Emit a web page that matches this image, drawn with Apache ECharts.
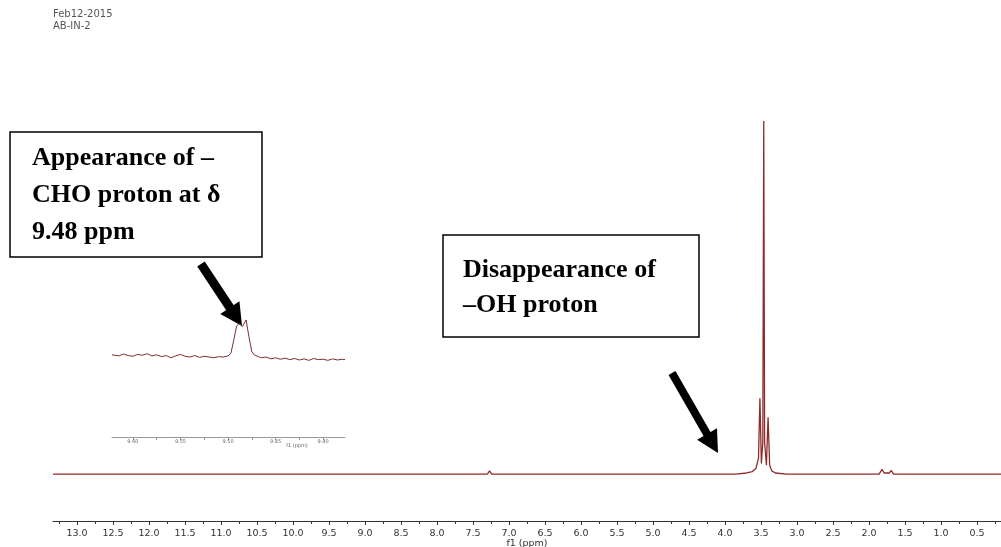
<!DOCTYPE html>
<html>
<head>
<meta charset="utf-8">
<script src="https://cdn.jsdelivr.net/npm/echarts@6/dist/echarts.min.js"></script>
<style>
  html, body { margin: 0; padding: 0; background: #fff; }
  #chart { width: 1001px; height: 547px; }
</style>
</head>
<body>
<div id="chart"></div>
<script>
// main 1H spectrum, [ppm, relative intensity]
var mainSpectrum = [
  [13.333, 0], [7.30, 0], [7.27, 0.9], [7.24, 0], [3.85, 0], [3.70, 0.3], [3.62, 0.7],
  [3.57, 1.6], [3.535, 4.5], [3.515, 21.5], [3.495, 3], [3.475, 9], [3.462, 100],
  [3.450, 9], [3.425, 2.5], [3.402, 16.1], [3.38, 2.5], [3.35, 0.9], [3.30, 0.3],
  [3.15, 0], [1.86, 0], [1.82, 1.3], [1.79, 0.3], [1.72, 0.3], [1.69, 1.0], [1.66, 0],
  [0.167, 0]
];
var mainLabels = [13.0, 12.5, 12.0, 11.5, 11.0, 10.5, 10.0, 9.5, 9.0, 8.5, 8.0, 7.5, 7.0,
  6.5, 6.0, 5.5, 5.0, 4.5, 4.0, 3.5, 3.0, 2.5, 2.0, 1.5, 1.0, 0.5];
var mainMinor = [13.25, 12.75, 12.25, 11.75, 11.25, 10.75, 10.25, 9.75, 9.25, 8.75, 8.25,
  7.75, 7.25, 6.75, 6.25, 5.75, 5.25, 4.75, 4.25, 3.75, 3.25, 2.75, 2.25, 1.75, 1.25,
  0.75, 0.25];

// expanded -CHO region (inset)
var insetSpectrum = [
  [9.622, 0.6], [9.615, 0.3], [9.610, 0.8], [9.605, 0.4], [9.600, 0.2], [9.595, 0.7],
  [9.590, 0.5], [9.585, 0.9], [9.580, 0.3], [9.575, 0.6], [9.570, 0.1], [9.565, 0.4],
  [9.560, -0.2], [9.555, 0.3], [9.550, 0.7], [9.545, 0.2], [9.540, 0.0], [9.535, 0.4],
  [9.530, -0.1], [9.525, 0.2], [9.520, 0.0], [9.515, -0.2], [9.510, 0.1], [9.505, 0.0],
  [9.500, 0.3], [9.497, 1.0], [9.494, 4.5], [9.491, 8.4], [9.488, 9.1], [9.485, 8.2],
  [9.481, 10.0], [9.478, 5.5], [9.475, 1.4], [9.472, 0.5], [9.468, 0.1], [9.465, -0.2],
  [9.460, 0.0], [9.455, -0.5], [9.450, -0.2], [9.445, -0.6], [9.440, -0.3], [9.435, -0.7],
  [9.430, -0.4], [9.425, -0.8], [9.420, -0.5], [9.415, -0.9], [9.410, -0.4], [9.405, -0.7],
  [9.400, -0.6], [9.395, -0.9], [9.390, -0.5], [9.385, -0.8], [9.380, -0.6], [9.377, -0.7]
];
var insetLabels = [9.60, 9.55, 9.50, 9.45, 9.40];
var insetMinor = [9.575, 9.525, 9.475, 9.425];

var lineColor = '#8e2a2a';
var serif = '"Liberation Serif", "Times New Roman", serif';

function arrow(tail, tip, width) {
  var dx = tip[0] - tail[0], dy = tip[1] - tail[1];
  var len = Math.sqrt(dx * dx + dy * dy);
  var ux = dx / len, uy = dy / len;
  var hl = 22, hw = 11.5;
  var bx = tip[0] - ux * hl, by = tip[1] - uy * hl;
  return [
    { type: 'line', shape: { x1: tail[0], y1: tail[1], x2: bx + ux * 2, y2: by + uy * 2 },
      style: { stroke: '#000', lineWidth: width } },
    { type: 'polygon', shape: { points: [[tip[0], tip[1]], [bx - uy * hw, by + ux * hw], [bx + uy * hw, by - ux * hw]] },
      style: { fill: '#000' } }
  ];
}

var graphics = [
  { type: 'text', left: 53, top: 8, style: { text: 'Feb12-2015\nAB-IN-2', font: '10px "DejaVu Sans"', fill: '#555', lineHeight: 12 } },
  { type: 'rect', shape: { x: 10, y: 132, width: 252, height: 125 }, style: { fill: '#fff', stroke: '#000', lineWidth: 1.5 } },
  { type: 'text', x: 32, y: 158, style: { text: 'Appearance of \u2013', font: 'bold 26px ' + serif, fill: '#000', verticalAlign: 'middle' } },
  { type: 'text', x: 32, y: 195, style: { text: 'CHO proton at \u03b4', font: 'bold 26px ' + serif, fill: '#000', verticalAlign: 'middle' } },
  { type: 'text', x: 32, y: 232, style: { text: '9.48 ppm', font: 'bold 26px ' + serif, fill: '#000', verticalAlign: 'middle' } },
  { type: 'rect', shape: { x: 443, y: 235, width: 256, height: 102 }, style: { fill: '#fff', stroke: '#000', lineWidth: 1.5 } },
  { type: 'text', x: 463, y: 270, style: { text: 'Disappearance of', font: 'bold 26px ' + serif, fill: '#000', verticalAlign: 'middle' } },
  { type: 'text', x: 463, y: 305, style: { text: '\u2013OH proton', font: 'bold 26px ' + serif, fill: '#000', verticalAlign: 'middle' } },
  { type: 'text', x: 297, y: 446, style: { text: 'f1 (ppm)', font: '5px "DejaVu Sans"', fill: '#666', align: 'center', verticalAlign: 'middle' } }
].concat(arrow([201, 264], [242, 326], 9), arrow([672, 373], [718, 453], 8));

var option = {
  backgroundColor: '#fff',
  animation: false,
  graphic: graphics,
  grid: [
    { left: 53, right: 0, top: 121, bottom: 26, outerBoundsMode: 'none', containLabel: false },
    { left: 112, right: 656, top: 310, bottom: 110, outerBoundsMode: 'none', containLabel: false }
  ],
  xAxis: [
    {
      gridIndex: 0, type: 'value', inverse: true, min: 0.167, max: 13.333, position: 'bottom',
      name: 'f1 (ppm)', nameLocation: 'middle', nameGap: 18, nameMoveOverlap: false,
      nameTextStyle: { fontFamily: 'DejaVu Sans', fontSize: 9.5, color: '#333' },
      axisLine: { onZero: false, lineStyle: { color: '#333', width: 1 } },
      axisTick: { length: 4, lineStyle: { color: '#333' }, customValues: mainLabels },
      axisLabel: { customValues: mainLabels, margin: 7.5, fontFamily: 'DejaVu Sans', fontSize: 9.5, color: '#333',
        formatter: function (v) { return v.toFixed(1); } },
      splitLine: { show: false }
    },
    {
      gridIndex: 0, type: 'value', inverse: true, min: 0.167, max: 13.333, position: 'bottom', offset: 0,
      axisLine: { show: false, onZero: false },
      axisTick: { length: 3, lineStyle: { color: '#333' }, customValues: mainMinor },
      axisLabel: { show: false },
      splitLine: { show: false }
    },
    {
      gridIndex: 1, type: 'value', inverse: true, min: 9.377, max: 9.622, position: 'bottom',
      axisLine: { onZero: false, lineStyle: { color: '#999', width: 1 } },
      axisTick: { length: 3, lineStyle: { color: '#999' }, customValues: insetLabels.concat(insetMinor) },
      axisLabel: { customValues: insetLabels, margin: 2, fontFamily: 'DejaVu Sans', fontSize: 5, color: '#666',
        formatter: function (v) { return v.toFixed(2); } },
      splitLine: { show: false }
    }
  ],
  yAxis: [
    { gridIndex: 0, type: 'value', min: -13.3, max: 100, show: false },
    { gridIndex: 1, type: 'value', min: -21.6, max: 12.7, show: false }
  ],
  series: [
    { type: 'line', xAxisIndex: 0, yAxisIndex: 0, data: mainSpectrum, showSymbol: false,
      lineStyle: { color: lineColor, width: 1.3 } },
    { type: 'line', xAxisIndex: 2, yAxisIndex: 1, data: insetSpectrum, showSymbol: false,
      lineStyle: { color: '#7a3030', width: 1 } }
  ]
};

var chart = echarts.init(document.getElementById('chart'));
chart.setOption(option);
</script>
</body>
</html>
